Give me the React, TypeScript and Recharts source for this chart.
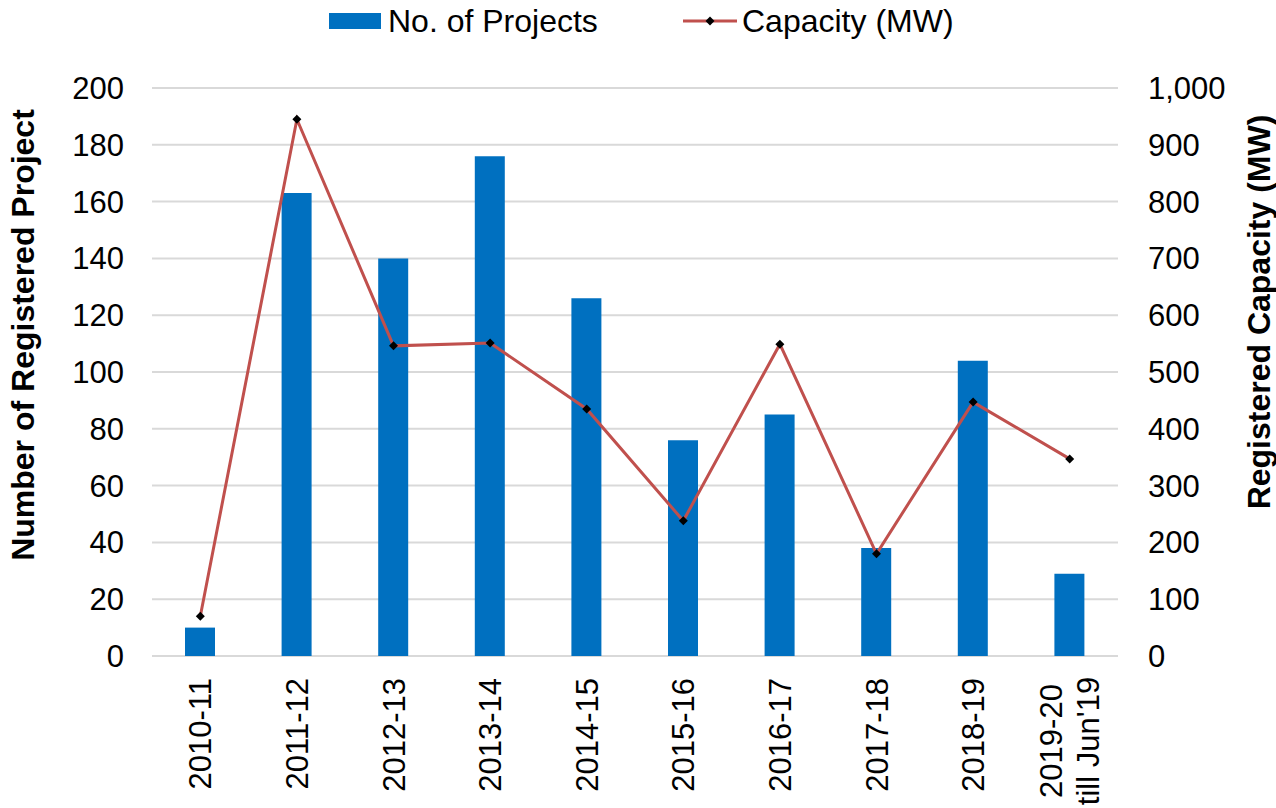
import {
  ComposedChart,
  Bar,
  Line,
  XAxis,
  YAxis,
  CartesianGrid,
  Legend,
} from "recharts";

const categories = [
  "2010-11",
  "2011-12",
  "2012-13",
  "2013-14",
  "2014-15",
  "2015-16",
  "2016-17",
  "2017-18",
  "2018-19",
  "2019-20\ntill Jun'19",
];
const projects = [10, 163, 140, 176, 126, 76, 85, 38, 104, 29];
const capacity = [70, 945, 546, 551, 435, 238, 549, 180, 447, 347];
const projectTicks = [0, 20, 40, 60, 80, 100, 120, 140, 160, 180, 200];
const capacityTicks = [0, 100, 200, 300, 400, 500, 600, 700, 800, 900, 1000];

const FONT = "'Liberation Sans', Arial, sans-serif";
const BLUE = "#0070C0";
const RED = "#C0504D";
const GRID = "#D9D9D9";

const data = categories.map((c, i) => ({
  name: c,
  projects: projects[i],
  capacity: capacity[i],
}));

function CategoryTick({ x, y, payload }: any) {
  const lines = String(payload.value).split("\n");
  if (lines.length === 1) {
    return (
      <text
        transform={`translate(${x + 11},${y + 22}) rotate(-90)`}
        textAnchor="end"
        fontSize={31}
        fontFamily={FONT}
        fill="#000"
      >
        {lines[0]}
      </text>
    );
  }
  const gap = 37;
  return (
    <g>
      {lines.map((l, i) => (
        <text
          key={i}
          transform={`translate(${x + 11 + (i - (lines.length - 1) / 2) * gap},${y + 85}) rotate(-90)`}
          textAnchor="middle"
          fontSize={31}
          fontFamily={FONT}
          fill="#000"
        >
          {l}
        </text>
      ))}
    </g>
  );
}

function Diamond({ cx, cy }: any) {
  if (cx == null || cy == null) return null;
  const r = 4.5;
  return (
    <polygon
      points={`${cx},${cy - r} ${cx + r},${cy} ${cx},${cy + r} ${cx - r},${cy}`}
      fill="#000"
    />
  );
}

function LegendContent() {
  return (
    <svg width={1276} height={45} style={{ display: "block" }}>
      <rect x={329} y={13} width={52} height={16} fill={BLUE} />
      <text x={388} y={32} fontSize={32} fontFamily={FONT} fill="#000">
        No. of Projects
      </text>
      <line x1={683} y1={21} x2={737} y2={21} stroke={RED} strokeWidth={3} />
      <polygon points="710,16.5 714.5,21 710,25.5 705.5,21" fill="#000" />
      <text x={742} y={32} fontSize={32} fontFamily={FONT} fill="#000">
        Capacity (MW)
      </text>
    </svg>
  );
}

export default function App() {
  return (
    <div
      style={{
        position: "absolute",
        left: 0,
        top: 0,
        width: 1276,
        height: 808,
        background: "#fff",
        fontFamily: FONT,
      }}
    >
      <ComposedChart
        width={1276}
        height={808}
        data={data}
        margin={{ top: 88, right: 0, bottom: 0, left: 0 }}
        barCategoryGap={0}
      >
        <CartesianGrid
          yAxisId="left"
          vertical={false}
          stroke={GRID}
          strokeWidth={2}
        />
        <XAxis
          dataKey="name"
          height={152}
          interval={0}
          tickLine={false}
          axisLine={false}
          tickSize={0}
          tickMargin={0}
          tick={<CategoryTick />}
        />
        <YAxis
          yAxisId="left"
          width={152}
          domain={[0, 200]}
          ticks={projectTicks}
          interval={0}
          tickLine={false}
          axisLine={false}
          tickSize={0}
          tickMargin={28}
          tick={{ fontSize: 31, fill: "#000", fontFamily: FONT }}
          label={{
            content: () => (
              <text
                transform="translate(34,335) rotate(-90)"
                textAnchor="middle"
                fontSize={32}
                fontWeight="bold"
                fontFamily={FONT}
                fill="#000"
              >
                Number of Registered Project
              </text>
            ),
          }}
        />
        <YAxis
          yAxisId="right"
          orientation="right"
          width={158}
          domain={[0, 1000]}
          ticks={capacityTicks}
          interval={0}
          tickLine={false}
          axisLine={false}
          tickSize={0}
          tickMargin={30}
          tickFormatter={(v: number) => v.toLocaleString("en-US")}
          tick={{ fontSize: 31, fill: "#000", fontFamily: FONT }}
          label={{
            content: () => (
              <text
                transform="translate(1270,312) rotate(-90)"
                textAnchor="middle"
                fontSize={32}
                fontWeight="bold"
                fontFamily={FONT}
                fill="#000"
              >
                Registered Capacity (MW)
              </text>
            ),
          }}
        />
        <Legend
          layout="horizontal"
          verticalAlign="middle"
          align="center"
          wrapperStyle={{ top: 0, left: 0, width: 1276 }}
          content={<LegendContent />}
        />
        <Bar
          yAxisId="left"
          dataKey="projects"
          name="No. of Projects"
          fill={BLUE}
          barSize={30}
          isAnimationActive={false}
        />
        <Line
          yAxisId="right"
          dataKey="capacity"
          name="Capacity (MW)"
          type="linear"
          stroke={RED}
          strokeWidth={3}
          dot={<Diamond />}
          activeDot={false}
          isAnimationActive={false}
        />
      </ComposedChart>
    </div>
  );
}
